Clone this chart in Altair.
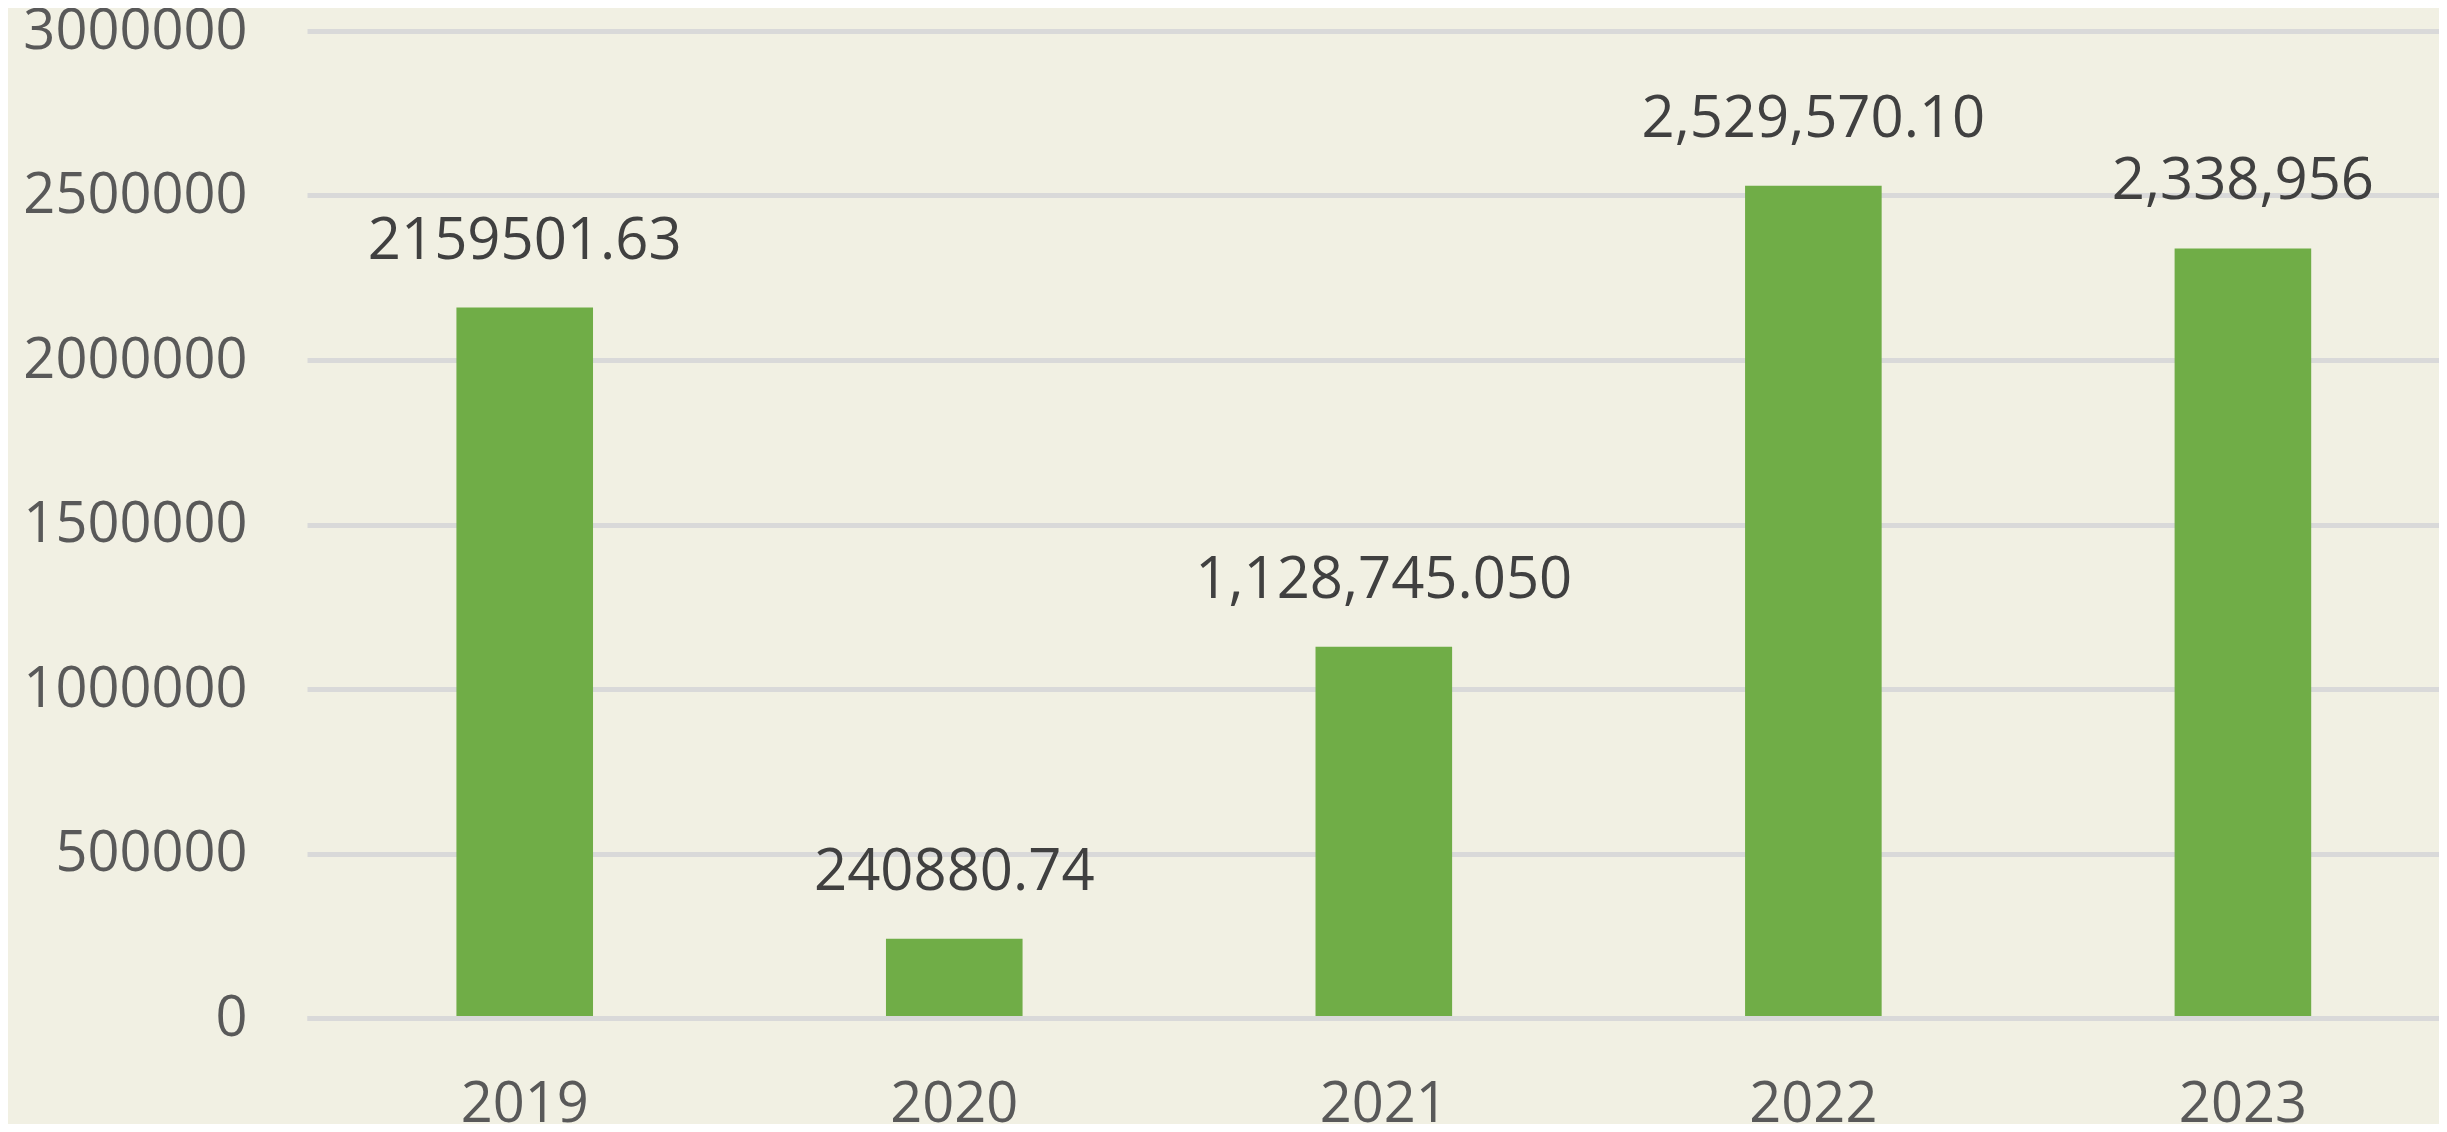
import altair as alt
import pandas as pd

years = ["2019", "2020", "2021", "2022", "2023"]
values = [2159501.63, 240880.74, 1128745.050, 2529570.10, 2338956]
labels = ["2159501.63", "240880.74", "1,128,745.050", "2,529,570.10", "2,338,956"]
y_ticks = [0, 500000, 1000000, 1500000, 2000000, 2500000, 3000000]

df = pd.DataFrame({"year": years, "value": values, "label": labels})

FONT = "Open Sans"

x_enc = alt.X(
    "year:N",
    sort=years,
    title=None,
    scale=alt.Scale(paddingInner=0.682, paddingOuter=0.3227, align=0.539),
    axis=alt.Axis(
        labelAngle=0,
        labelFont=FONT,
        labelFontSize=56,
        labelColor="#595959",
        labelBaseline="alphabetic",
        labelPadding=103,
        labelLimit=0,
        ticks=False,
        tickSize=0,
        grid=False,
        domain=True,
        domainColor="#D9D9D9",
        domainWidth=5,
        zindex=1,
    ),
)

y_enc = alt.Y(
    "value:Q",
    title=None,
    scale=alt.Scale(domain=[0, 3000000], nice=False),
    axis=alt.Axis(
        values=y_ticks,
        format="d",
        labelFont=FONT,
        labelFontSize=56,
        labelColor="#595959",
        labelPadding=60,
        labelLimit=0,
        ticks=False,
        tickSize=0,
        domain=False,
        grid=True,
        gridColor="#D9D9D9",
        gridWidth=5,
        zindex=0,
    ),
)

bars = alt.Chart(df).mark_bar(color="#70AD47").encode(x=x_enc, y=y_enc)

text = alt.Chart(df).mark_text(
    font=FONT,
    fontSize=58,
    color="#404040",
    baseline="alphabetic",
    align="center",
    dy=-49,
).encode(
    x=alt.X("year:N", sort=years),
    y=alt.Y("value:Q"),
    text="label:N",
)

chart = (
    alt.layer(bars, text)
    .properties(
        width=2132,
        height=987,
        autosize=alt.AutoSizeParams(type="none"),
        padding={"left": 299, "top": 23, "right": 0, "bottom": 106},
        background="#F1F0E3",
    )
    .configure_view(strokeWidth=0)
)

chart.save("out.html", embed_options={"renderer": "svg", "actions": False})
